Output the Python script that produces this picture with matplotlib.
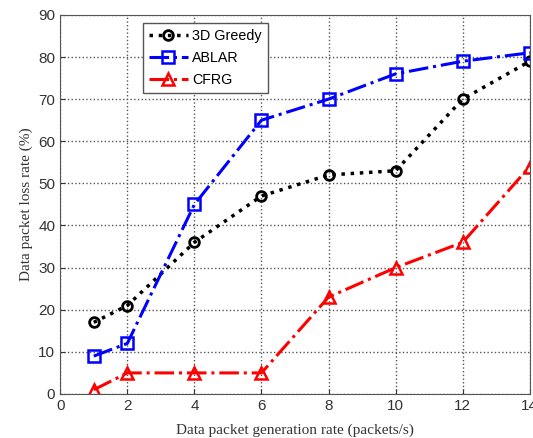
import matplotlib
matplotlib.use("Agg")
import matplotlib.pyplot as plt

# Valores
rate = [1, 2, 4, 6, 8, 10, 12, 14]
greedy = [17, 21, 36, 47, 52, 53, 70, 79]
ablar = [9, 12, 45, 65, 70, 76, 79, 81]
cfrg = [1, 5, 5, 5, 23, 30, 36, 54]

fig = plt.figure(figsize=(5.33, 4.38), dpi=100)
ax = fig.add_axes([0.113, 0.1005, 0.881, 0.8655])

ax.plot(rate, greedy, color="black", linestyle=":", linewidth=2.5,
        marker="o", markersize=7, markerfacecolor="none", markeredgewidth=2,
        label="3D Greedy")
ax.plot(rate, ablar, color="blue", linestyle="-.", linewidth=2.2,
        marker="s", markersize=8, markerfacecolor="none", markeredgewidth=1.8,
        label="ABLAR")
ax.plot(rate, cfrg, color="red", linestyle="-.", linewidth=2.2,
        marker="^", markersize=9, markerfacecolor="none", markeredgewidth=1.8,
        label="CFRG")

ax.set_xlim(0, 14)
ax.set_ylim(0, 90)
ax.set_xticks(range(0, 15, 2))
ax.set_yticks(range(0, 91, 10))
ax.grid(True, linestyle=":", color="#555555", linewidth=1)
for s in ax.spines.values():
    s.set_color("#555555")
ax.tick_params(direction="in", labelsize=11, colors="#333333")
for lbl in ax.get_xticklabels() + ax.get_yticklabels():
    lbl.set_fontfamily("Liberation Sans")

ax.set_xlabel("Data packet generation rate (packets/s)", fontsize=11,
              fontfamily="Liberation Serif", color="#333333", labelpad=8)
ax.set_ylabel("Data packet loss rate (%)", fontsize=11,
              fontfamily="Liberation Serif", color="#333333")

ax.legend(loc="upper left", bbox_to_anchor=(0.16, 0.998), fancybox=False,
          framealpha=1, edgecolor="#555555", handlelength=2.7,
          prop={"family": "Liberation Sans", "size": 10.3},
          borderpad=0.45, labelspacing=0.55, handletextpad=0.3)

fig.savefig("out.png")
